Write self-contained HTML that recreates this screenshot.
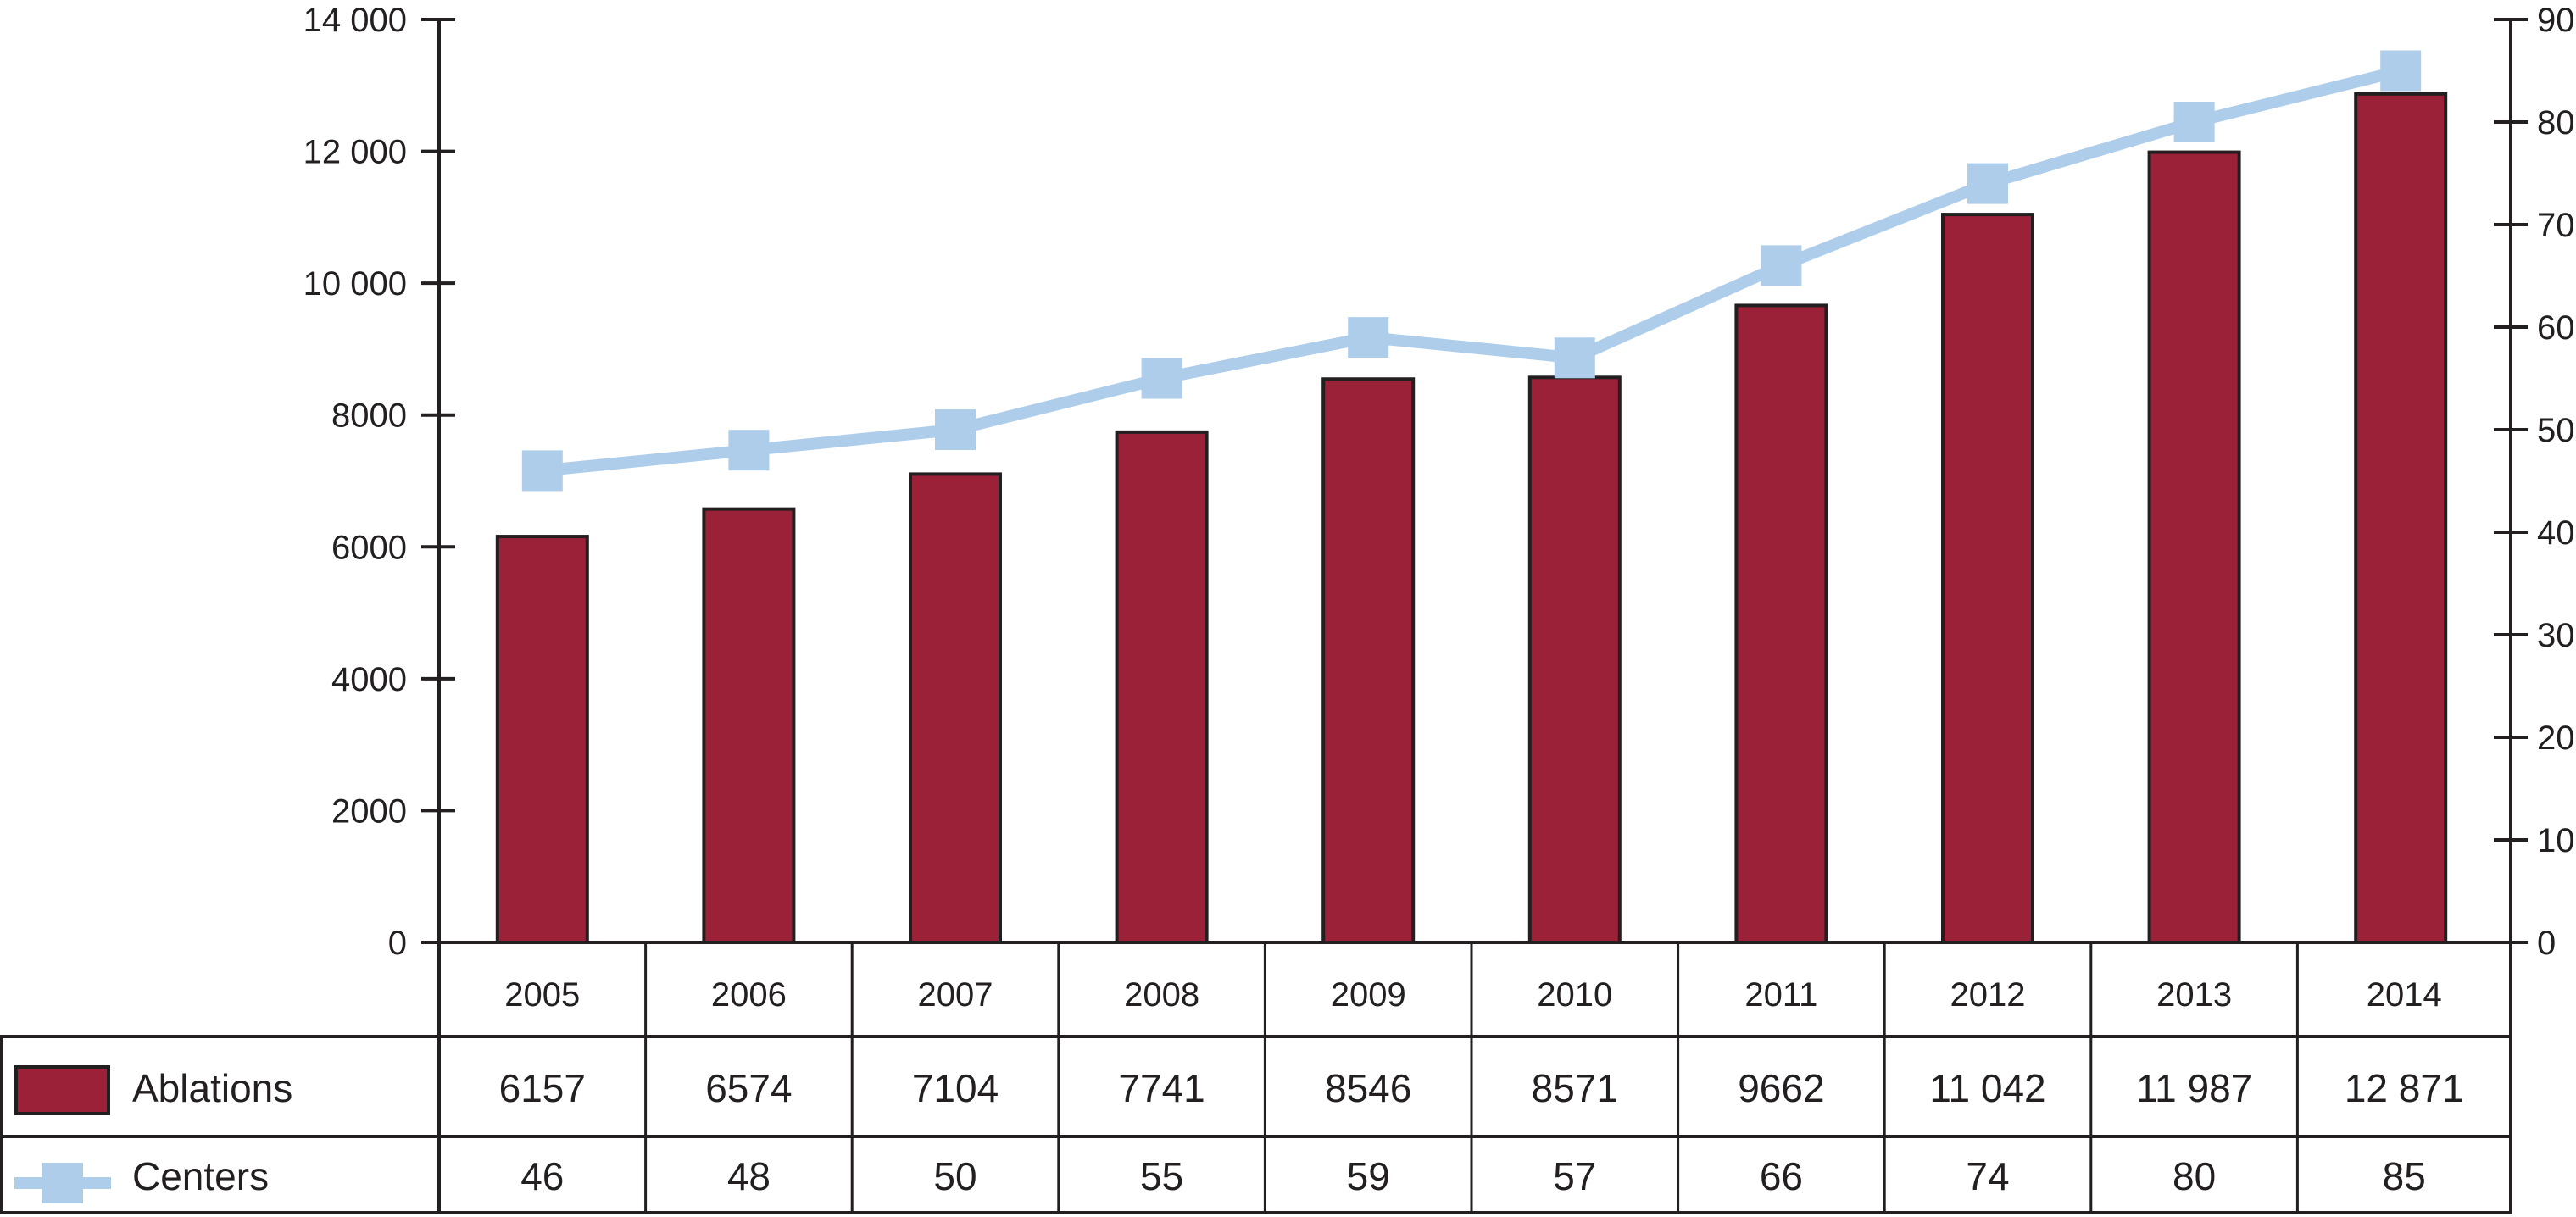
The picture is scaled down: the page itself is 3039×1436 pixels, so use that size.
<!DOCTYPE html>
<html><head><meta charset="utf-8"><style>
html,body{margin:0;padding:0;background:#fff;}
svg{display:block;font-family:"Liberation Sans",sans-serif;}
</style></head><body>
<svg id="chart" width="3039" height="1436" viewBox="0 0 3039 1436" xmlns="http://www.w3.org/2000/svg">
<g id="table"></g>
<g id="bars"></g>
<g id="line"></g>
<g id="axes"></g>
</svg>
<script>
const years = ["2005","2006","2007","2008","2009","2010","2011","2012","2013","2014"];
const ablations = [6157,6574,7104,7741,8546,8571,9662,11042,11987,12871];
const centers = [46,48,50,55,59,57,66,74,80,85];
const ablationsLabels = ["6157","6574","7104","7741","8546","8571","9662","11 042","11 987","12 871"];
const leftTicks = [0,2000,4000,6000,8000,10000,12000,14000];
const leftTickLabels = ["0","2000","4000","6000","8000","10 000","12 000","14 000"];
const rightTicks = [0,10,20,30,40,50,60,70,80,90];

const NS="http://www.w3.org/2000/svg";
const X0=518, X1=2962, Y0=1112, Y1=23, COLW=243.6;
const yL=v=>Y0-(v/14000)*(Y0-Y1);
const yR=v=>Y0-(v/90)*(Y0-Y1);
const xc=i=>X0+(i+0.5)*COLW;
function mk(tag,attrs,parent){const e=document.createElementNS(NS,tag);for(const k in attrs)e.setAttribute(k,attrs[k]);parent.appendChild(e);return e;}
const gT=document.getElementById('table'),gB=document.getElementById('bars'),gL=document.getElementById('line'),gA=document.getElementById('axes');
const ink="#231f20";

// table
let e;
e=mk('rect',{x:2,y:1223,width:X1-2,height:208,fill:'none',stroke:ink,'stroke-width':4},gT);


e=mk('line',{x1:2,y1:1341,x2:X1,y2:1341,stroke:ink,'stroke-width':4},gT);


for(let i=1;i<years.length;i++){
  e=mk('line',{x1:X0+i*COLW,y1:Y0,x2:X0+i*COLW,y2:1431,stroke:ink,'stroke-width':3},gT);
  
  
}
e=mk('line',{x1:X1,y1:Y0,x2:X1,y2:1431,stroke:ink,'stroke-width':3},gT);


years.forEach((y,i)=>{
  const cx=(i==years.length-1)?(X0+i*COLW+X1)/2:xc(i);
  let t=mk('text',{x:cx,y:1187,'font-size':40,'text-anchor':'middle',fill:ink},gT);t.textContent=y;
  
  
  t=mk('text',{x:cx,y:1300,'font-size':46,'text-anchor':'middle',fill:ink},gT);t.textContent=ablationsLabels[i];
  
  
  t=mk('text',{x:cx,y:1404,'font-size':46,'text-anchor':'middle',fill:ink},gT);t.textContent=String(centers[i]);
  
  
});
// legend
e=mk('rect',{x:19,y:1259,width:109,height:55,fill:'#9b2139',stroke:ink,'stroke-width':4},gT);


e=mk('text',{x:156,y:1300,'font-size':46,fill:ink},gT);e.textContent='Ablations';


e=mk('line',{x1:17,y1:1396,x2:131,y2:1396,stroke:'#aecdeb','stroke-width':14},gT);


e=mk('rect',{x:50,y:1372,width:48,height:48,fill:'#aecdeb'},gT);


e=mk('text',{x:156,y:1404,'font-size':46,fill:ink},gT);e.textContent='Centers';



// bars
ablations.forEach((v,i)=>{
  const b=mk('rect',{x:xc(i)-53,y:yL(v),width:106,height:Y0-yL(v),fill:'#9b2139',stroke:ink,'stroke-width':4},gB);
  
  
});
// line
const pts=centers.map((v,i)=>xc(i)+','+yR(v)).join(' ');
e=mk('polyline',{points:pts,fill:'none',stroke:'#aecdeb','stroke-width':14,'stroke-linejoin':'round'},gL);


centers.forEach((v,i)=>{
  const m=mk('rect',{x:xc(i)-24,y:yR(v)-24,width:48,height:48,fill:'#aecdeb'},gL);
  
  
});

// axes
e=mk('line',{x1:X0,y1:Y1-2,x2:X0,y2:1431,stroke:ink,'stroke-width':4},gA);


e=mk('line',{x1:X1,y1:Y1-2,x2:X1,y2:1431,stroke:ink,'stroke-width':4},gA);


e=mk('line',{x1:X0,y1:Y0,x2:X1,y2:Y0,stroke:ink,'stroke-width':4},gA);


leftTicks.forEach((v,i)=>{
  let l=mk('line',{x1:497,y1:yL(v),x2:537,y2:yL(v),stroke:ink,'stroke-width':4},gA);
  
  
  let t=mk('text',{x:480,y:yL(v)+14,'font-size':40,'text-anchor':'end',fill:ink},gA);t.textContent=leftTickLabels[i];
  
  
});
rightTicks.forEach(v=>{
  let l=mk('line',{x1:2942,y1:yR(v),x2:2982,y2:yR(v),stroke:ink,'stroke-width':4},gA);
  
  
  let t=mk('text',{x:2993,y:yR(v)+14,'font-size':40,fill:ink},gA);t.textContent=String(v);
  
  
});
</script>
</body></html>
